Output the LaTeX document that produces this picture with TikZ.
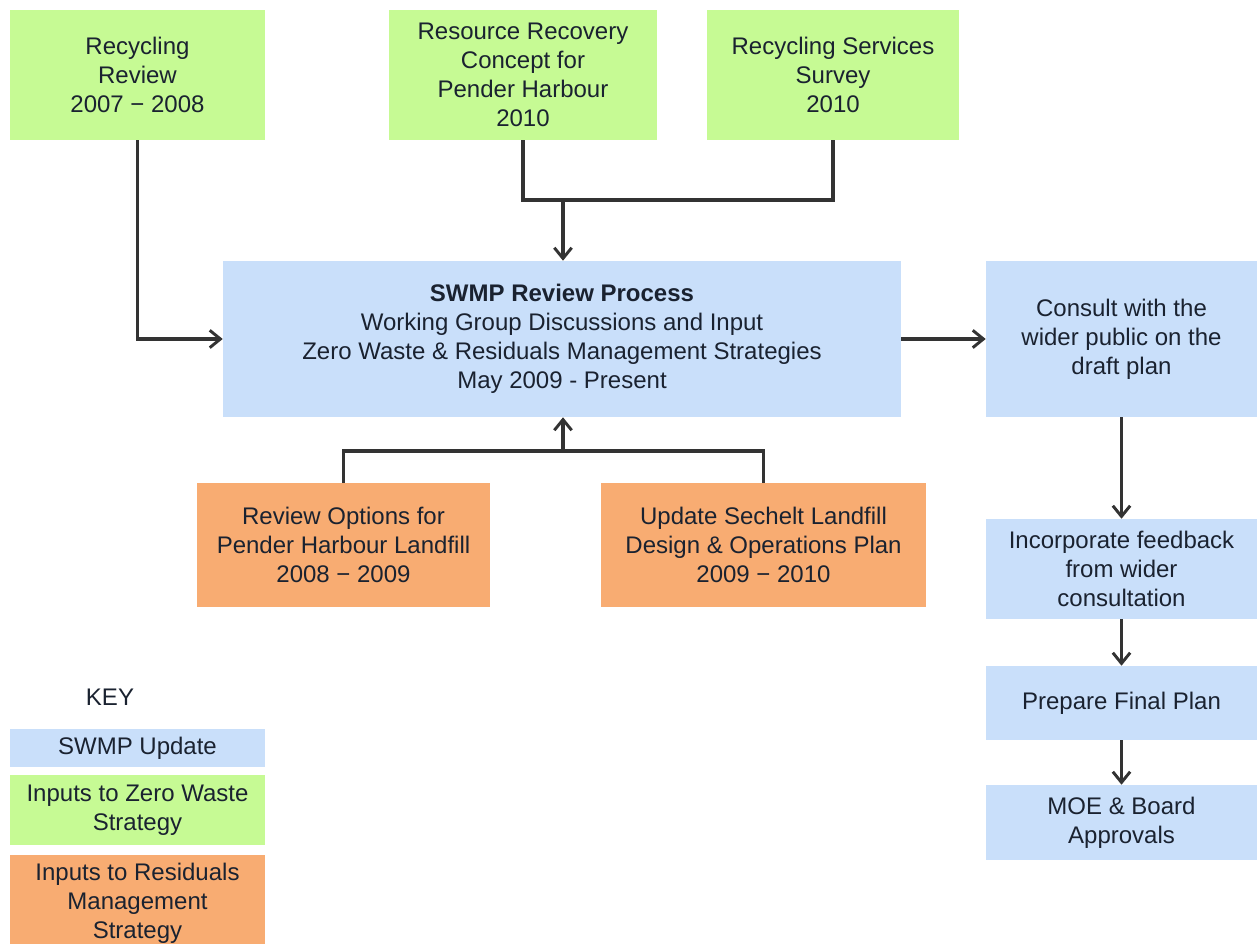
\documentclass[tikz,border=0pt]{standalone}
\usepackage{fontspec}
\setmainfont{Liberation Sans}
\usetikzlibrary{arrows.meta}
\definecolor{gfill}{RGB}{198,250,148}
\definecolor{bfill}{RGB}{201,223,250}
\definecolor{ofill}{RGB}{248,172,114}
\definecolor{txt}{RGB}{26,34,48}
\definecolor{ln}{RGB}{51,51,51}
\begin{document}
\begin{tikzpicture}[x=0.75pt,y=-0.75pt,
  box/.style={rectangle,inner sep=0pt,align=center,text=txt,font=\fontsize{18}{21.8}\selectfont},
  green/.style={box,fill=gfill},
  blue/.style={box,fill=bfill},
  orange/.style={box,fill=ofill},
  conn/.style={draw=ln,line width=2.4pt},
  arr/.style={conn,-{Straight Barb[length=8pt,width=13pt,line width=2.2pt]}}]
\useasboundingbox[fill=white] (0,0) rectangle (1257,944);
\node[green,minimum width=255*0.75pt,minimum height=130*0.75pt] (rr) at (137.5,75) {Recycling\\Review\\2007 − 2008};
\node[green,minimum width=268*0.75pt,minimum height=130*0.75pt] (rc) at (523,75) {Resource Recovery\\Concept for\\Pender Harbour\\2010};
\node[green,minimum width=252*0.75pt,minimum height=130*0.75pt] (rs) at (833,75) {Recycling Services\\Survey\\2010};
\node[blue,minimum width=678*0.75pt,minimum height=156*0.75pt] (swmp) at (562,339) {\textbf{SWMP Review Process}\\Working Group Discussions and Input\\Zero Waste \& Residuals Management Strategies\\May 2009 - Present};
\node[blue,minimum width=271*0.75pt,minimum height=156*0.75pt] (cons) at (1121.5,339) {Consult with the\\wider public on the\\draft plan};
\node[orange,minimum width=293*0.75pt,minimum height=124*0.75pt] (ro) at (343.5,545) {Review Options for\\Pender Harbour Landfill\\2008 − 2009};
\node[orange,minimum width=325*0.75pt,minimum height=124*0.75pt] (us) at (763.5,545) {Update Sechelt Landfill\\Design \& Operations Plan\\2009 − 2010};
\node[blue,minimum width=271*0.75pt,minimum height=100*0.75pt] (inc) at (1121.5,569) {Incorporate feedback\\from wider\\consultation};
\node[blue,minimum width=271*0.75pt,minimum height=74*0.75pt] (pfp) at (1121.5,703) {Prepare Final Plan};
\node[blue,minimum width=271*0.75pt,minimum height=75*0.75pt] (moe) at (1121.5,822.5) {MOE \& Board\\Approvals};
\node[box] (key) at (110,697) {KEY};
\node[blue,minimum width=255*0.75pt,minimum height=38*0.75pt] (k1) at (137.5,748) {SWMP Update};
\node[green,minimum width=255*0.75pt,minimum height=70*0.75pt] (k2) at (137.5,810) {Inputs to Zero Waste\\Strategy};
\node[orange,minimum width=255*0.75pt,minimum height=89*0.75pt] (k3) at (137.5,899.5) {};
\node[box] (k3t) at (137.5,903) {Inputs to Residuals\\Management\\Strategy};
% connectors
\coordinate (j1) at (563,200);
\coordinate (j2) at (563,451);
\draw[conn] (rc.south) |- (j1) -| (rs.south);
\draw[arr] (j1) -- (j1 |- swmp.north);
\draw[conn] (ro.north) |- (j2) -| (us.north);
\draw[arr] (j2) -- (j2 |- swmp.south);
\draw[arr] (rr.south) |- (swmp.west);
\draw[arr] (swmp.east) -- (cons.west);
\draw[arr] (cons.south) -- (inc.north);
\draw[arr] (inc.south) -- (pfp.north);
\draw[arr] (pfp.south) -- (moe.north);
\end{tikzpicture}
\end{document}
